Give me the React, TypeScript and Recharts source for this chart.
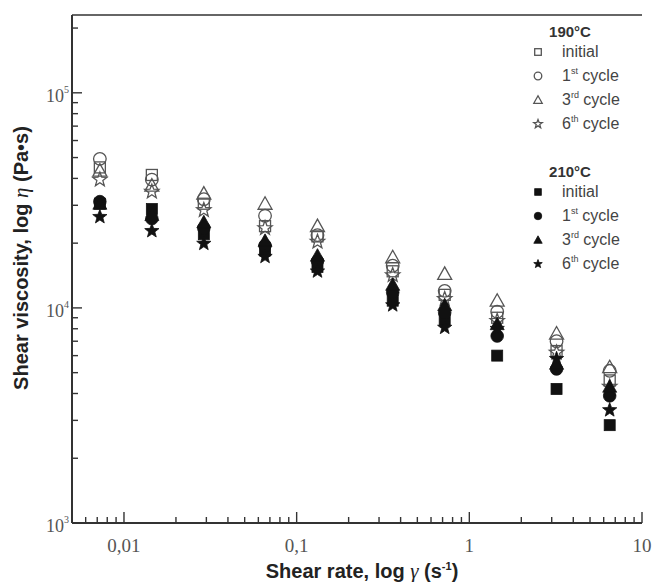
import React from 'react';
import { ScatterChart, Scatter, XAxis, YAxis } from 'recharts';

// shear rate (s^-1), shared by every series
const shearRate = [0.00725, 0.0145, 0.029, 0.0656, 0.132, 0.36, 0.72, 1.45, 3.2, 6.5];

// 190 °C, open symbols
const initial190 = [45000, 41500, 30500, 24000, 21500, 14800, 11500, 9000, 6300, 4600];
const cycle1st190 = [49300, 39500, 32000, 26800, 21800, 15700, 12000, 9600, 7000, 5100];
const cycle3rd190 = [43500, 37000, 34000, 30500, 24000, 17200, 14400, 10800, 7600, 5300];
const cycle6th190 = [39500, 34700, 28500, 23500, 20300, 14200, 11000, 8700, 6200, 4300];

// 210 °C, filled symbols
const initial210 = [30500, 28800, 22000, 18500, 15500, 10800, 8800, 6000, 4200, 2850];
const cycle1st210 = [31200, 26000, 23500, 19500, 16500, 11800, 9500, 7400, 5200, 3900];
const cycle3rd210 = [30500, 27000, 25000, 20500, 17500, 12800, 10300, 8400, 5500, 4300];
const cycle6th210 = [26500, 22800, 19900, 17300, 14800, 10300, 8100, 8000, 5800, 3350];

const xTicks = [
  0.006, 0.007, 0.008, 0.009, 0.01,
  0.02, 0.03, 0.04, 0.05, 0.06, 0.07, 0.08, 0.09, 0.1,
  0.2, 0.3, 0.4, 0.5, 0.6, 0.7, 0.8, 0.9, 1,
  2, 3, 4, 5, 6, 7, 8, 9, 10,
];
const xTickLabels: Record<string, string> = { '0.01': '0,01', '0.1': '0,1', '1': '1', '10': '10' };

const yTicks = [
  1000, 2000, 3000, 4000, 5000, 6000, 7000, 8000, 9000,
  10000, 20000, 30000, 40000, 50000, 60000, 70000, 80000, 90000,
  100000, 200000,
];
const yTickExponents: Record<string, string> = { '1000': '3', '10000': '4', '100000': '5' };

type Kind = 'square' | 'circle' | 'triangle' | 'star';

const toPoints = (ys: number[]) => shearRate.map((x, i) => ({ x, y: ys[i] }));

const starPoints = (cx: number, cy: number, R: number) => {
  const pts: string[] = [];
  for (let i = 0; i < 10; i++) {
    const r = i % 2 === 0 ? R : R * 0.42;
    const a = -Math.PI / 2 + (i * Math.PI) / 5;
    pts.push(`${cx + r * Math.cos(a)},${cy + r * Math.sin(a)}`);
  }
  return pts.join(' ');
};

const Marker = ({ cx, cy, kind, filled, s = 1 }: { cx: number; cy: number; kind: Kind; filled: boolean; s?: number }) => {
  const fill = filled ? '#111' : 'none';
  const stroke = filled ? '#111' : '#555';
  const sw = filled ? 0.8 : 1.3;
  if (kind === 'circle') return <circle cx={cx} cy={cy} r={6.3 * s} fill={fill} stroke={stroke} strokeWidth={sw} />;
  if (kind === 'square') {
    const h = 5.5 * s;
    return <rect x={cx - h} y={cy - h} width={2 * h} height={2 * h} fill={fill} stroke={stroke} strokeWidth={sw} />;
  }
  if (kind === 'triangle') {
    const w = 7 * s;
    return (
      <polygon
        points={`${cx},${cy - 7 * s} ${cx + w},${cy + 5.5 * s} ${cx - w},${cy + 5.5 * s}`}
        fill={fill}
        stroke={stroke}
        strokeWidth={sw}
      />
    );
  }
  return <polygon points={starPoints(cx, cy, 7.5 * s)} fill={fill} stroke={stroke} strokeWidth={sw} />;
};

const series: { name: string; ys: number[]; kind: Kind; filled: boolean }[] = [
  { name: '190 initial', ys: initial190, kind: 'square', filled: false },
  { name: '190 1st', ys: cycle1st190, kind: 'circle', filled: false },
  { name: '190 3rd', ys: cycle3rd190, kind: 'triangle', filled: false },
  { name: '190 6th', ys: cycle6th190, kind: 'star', filled: false },
  { name: '210 initial', ys: initial210, kind: 'square', filled: true },
  { name: '210 1st', ys: cycle1st210, kind: 'circle', filled: true },
  { name: '210 3rd', ys: cycle3rd210, kind: 'triangle', filled: true },
  { name: '210 6th', ys: cycle6th210, kind: 'star', filled: true },
];

const tickFont = '"Liberation Serif", "DejaVu Serif", serif';
const sansFont = '"Liberation Sans", Arial, sans-serif';

const XTick = (props: any) => {
  const { x, y, payload } = props;
  const label = xTickLabels[String(payload.value)];
  const len = label ? 11 : 6;
  return (
    <g>
      <line x1={x} y1={y} x2={x} y2={y - len} stroke="#333" strokeWidth={1.4} />
      {label && (
        <text x={x} y={y + 29} textAnchor="middle" fontFamily={tickFont} fontSize={19} fill="#555">
          {label}
        </text>
      )}
    </g>
  );
};

const YTick = (props: any) => {
  const { x, y, payload } = props;
  const exp = yTickExponents[String(payload.value)];
  const len = exp ? 10 : 6;
  return (
    <g>
      <line x1={x} y1={y} x2={x + len} y2={y} stroke="#333" strokeWidth={1.4} />
      {exp && (
        <text x={x - 3} y={y + 9} textAnchor="end" fontFamily={tickFont} fontSize={18} fill="#555">
          10
          <tspan dy={-9} fontSize={10}>
            {exp}
          </tspan>
        </text>
      )}
    </g>
  );
};

const LegendRow = ({ y, kind, filled, num, sup }: { y: number; kind: Kind; filled: boolean; num?: string; sup?: string }) => (
  <g>
    <Marker cx={538} cy={y} kind={kind} filled={filled} s={0.6} />
    <text x={562} y={y + 5} fontFamily={sansFont} fontSize={16} fill="#444">
      {num ? (
        <>
          {num}
          <tspan dy={-7} fontSize={9}>
            {sup}
          </tspan>
          <tspan dy={7}> cycle</tspan>
        </>
      ) : (
        'initial'
      )}
    </text>
  </g>
);

const App = () => {
  return (
    <div style={{ position: 'absolute', left: 0, top: 0, width: 652, height: 582, background: '#fff' }}>
      <ScatterChart width={652} height={582} margin={{ top: 14, right: 10, bottom: 0, left: 0 }}>
        <XAxis
          dataKey="x"
          type="number"
          scale="log"
          domain={[0.005, 10]}
          allowDataOverflow
          ticks={xTicks}
          interval={0}
          tick={<XTick />}
          tickLine={false}
          tickSize={0}
          tickMargin={0}
          height={59}
          axisLine={{ stroke: '#333', strokeWidth: 2 }}
        />
        <XAxis
          xAxisId="top"
          orientation="top"
          type="number"
          scale="log"
          domain={[0.005, 10]}
          allowDataOverflow
          ticks={[0.005, 10]}
          tick={false}
          tickLine={false}
          height={1}
          axisLine={{ stroke: '#666', strokeWidth: 2 }}
        />
        <YAxis
          dataKey="y"
          type="number"
          scale="log"
          domain={[1000, 230000]}
          allowDataOverflow
          ticks={yTicks}
          interval={0}
          tick={<YTick />}
          tickLine={false}
          tickSize={0}
          tickMargin={0}
          width={72}
          axisLine={{ stroke: '#333', strokeWidth: 2 }}
        />
        <YAxis
          yAxisId="right"
          orientation="right"
          type="number"
          scale="log"
          domain={[1000, 230000]}
          allowDataOverflow
          tick={false}
          tickLine={false}
          width={0}
          axisLine={{ stroke: '#666', strokeWidth: 2 }}
        />
        {series.map((s) => (
          <Scatter
            key={s.name}
            name={s.name}
            data={toPoints(s.ys)}
            isAnimationActive={false}
            shape={(p: any) => <Marker cx={p.cx} cy={p.cy} kind={s.kind} filled={s.filled} />}
          />
        ))}
      </ScatterChart>
      <svg width={652} height={582} style={{ position: 'absolute', left: 0, top: 0, pointerEvents: 'none' }}>
        <text
          transform="rotate(-90)"
          x={-258}
          y={28}
          textAnchor="middle"
          fontFamily={sansFont}
          fontWeight="bold"
          fontSize={20}
          fill="#222"
        >
          Shear viscosity, log{' '}
          <tspan fontFamily={tickFont} fontStyle="italic" fontWeight="normal" fontSize={21}>
            η
          </tspan>{' '}
          (Pa•s)
        </text>
        <text x={362} y={578} textAnchor="middle" fontFamily={sansFont} fontWeight="bold" fontSize={20} fill="#222">
          Shear rate, log{' '}
          <tspan fontFamily={tickFont} fontStyle="italic" fontWeight="normal" fontSize={21}>
            γ
          </tspan>{' '}
          (s
          <tspan dy={-8} fontSize={11}>
            -1
          </tspan>
          <tspan dy={8}>)</tspan>
        </text>

        <text x={570} y={37} textAnchor="middle" fontFamily={sansFont} fontWeight="bold" fontSize={15} fill="#333">
          190°C
        </text>
        <LegendRow y={52} kind="square" filled={false} />
        <LegendRow y={76} kind="circle" filled={false} num="1" sup="st" />
        <LegendRow y={100} kind="triangle" filled={false} num="3" sup="rd" />
        <LegendRow y={124} kind="star" filled={false} num="6" sup="th" />

        <text x={570} y={177} textAnchor="middle" fontFamily={sansFont} fontWeight="bold" fontSize={15} fill="#333">
          210°C
        </text>
        <LegendRow y={192} kind="square" filled />
        <LegendRow y={216} kind="circle" filled num="1" sup="st" />
        <LegendRow y={240} kind="triangle" filled num="3" sup="rd" />
        <LegendRow y={264} kind="star" filled num="6" sup="th" />
      </svg>
    </div>
  );
};

export default App;
